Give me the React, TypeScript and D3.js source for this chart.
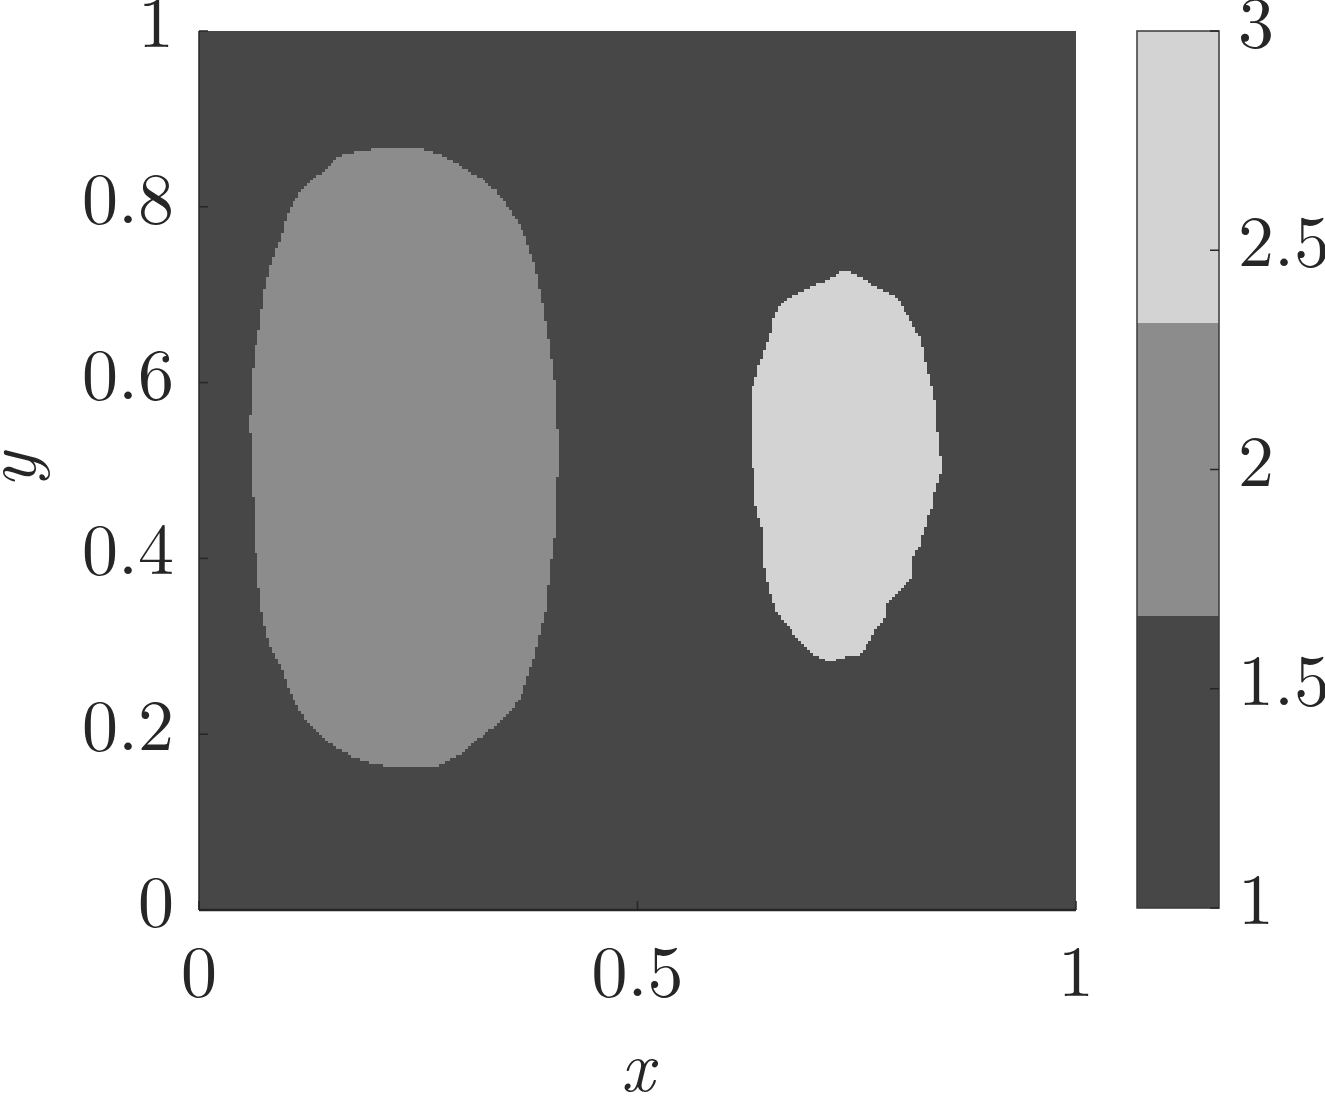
import React from "react";
import * as d3 from "d3";

// ---- data ----
// Region 1 (value 2): large ellipse-like region, boundary in data coords
const ellipseX = [.232,.246,.258,.275,.294,.312,.328,.340,.351,.363,.370,.375,.381,.389,.395,.400,.405,.408,.409,.408,.406,.400,.395,.387,.380,.374,.366,.357,.343,.328,.312,.300,.286,.273,.210,.198,.176,.157,.141,.129,.117,.107,.101,.096,.087,.079,.073,.067,.064,.062,.059,.058,.060,.064,.070,.075,.083,.091,.096,.101,.107,.115,.127,.138,.157,.172,.197];
const ellipseY = [.868,.868,.865,.859,.850,.838,.828,.817,.802,.785,.770,.757,.739,.705,.671,.637,.603,.557,.523,.478,.432,.387,.341,.307,.281,.262,.242,.228,.214,.203,.191,.179,.171,.165,.165,.167,.174,.185,.196,.208,.224,.241,.254,.273,.290,.307,.330,.375,.421,.466,.512,.557,.603,.637,.671,.705,.739,.759,.774,.791,.805,.816,.830,.838,.856,.861,.865];
const ellipseValue = 2;

// Region 2 (value 3): smaller blob
const blobX = [.740,.750,.769,.784,.796,.803,.811,.816,.822,.826,.830,.836,.839,.842,.845,.845,.842,.837,.836,.831,.828,.824,.822,.816,.814,.814,.807,.799,.791,.784,.783,.780,.773,.767,.759,.756,.742,.731,.722,.710,.700,.691,.682,.674,.665,.657,.653,.649,.645,.643,.645,.642,.637,.634,.632,.632,.629,.629,.632,.636,.637,.642,.645,.649,.653,.655,.660,.666,.674,.685,.697,.710,.722,.731];
const blobY = [.727,.722,.711,.703,.696,.683,.671,.660,.652,.634,.614,.595,.577,.538,.515,.498,.486,.474,.458,.447,.436,.424,.413,.407,.400,.379,.373,.364,.356,.349,.336,.330,.322,.311,.299,.292,.290,.287,.282,.287,.292,.299,.309,.321,.330,.344,.356,.372,.390,.404,.421,.436,.452,.463,.481,.504,.512,.588,.597,.609,.618,.628,.637,.648,.660,.673,.683,.692,.697,.703,.709,.714,.720,.725];
const blobValue = 3;

const backgroundValue = 1;
const gridSize = 300; // field resolution

const levelColors = ["#474747", "#8c8c8c", "#d3d3d3"];
const colorDomain = [1, 3];

const xTicks = [0, 0.5, 1];
const xTickLabels = ["0", "0.5", "1"];
const yTicks = [0, 0.2, 0.4, 0.6, 0.8, 1];
const yTickLabels = ["0", "0.2", "0.4", "0.6", "0.8", "1"];
const cTicks = [1, 1.5, 2, 2.5, 3];
const cTickLabels = ["1", "1.5", "2", "2.5", "3"];

const W = 1325, H = 1097;
const FONT = "'Latin Modern Roman','CMU Serif','Liberation Serif',serif";
const FS = 72;

function rasterRuns(px: number[], py: number[], n: number) {
  const runs: { i0: number; i1: number; j: number }[] = [];
  const m = px.length;
  for (let j = 0; j < n; j++) {
    const yc = (j + 0.5) / n;
    const xs: number[] = [];
    for (let k = 0; k < m; k++) {
      const x1 = px[k], y1 = py[k];
      const x2 = px[(k + 1) % m], y2 = py[(k + 1) % m];
      if ((y1 <= yc && y2 > yc) || (y2 <= yc && y1 > yc)) {
        xs.push(x1 + ((yc - y1) / (y2 - y1)) * (x2 - x1));
      }
    }
    xs.sort((a, b) => a - b);
    for (let k = 0; k + 1 < xs.length; k += 2) {
      const i0 = Math.ceil(xs[k] * n - 0.5);
      const i1 = Math.floor(xs[k + 1] * n - 0.5);
      if (i1 >= i0) runs.push({ i0, i1, j });
    }
  }
  return runs;
}

export default function App() {
  const x = d3.scaleLinear().domain([0, 1]).range([199, 1076]);
  const y = d3.scaleLinear().domain([0, 1]).range([910, 31]);
  const color = d3.scaleQuantize<string>().domain(colorDomain).range(levelColors);
  const c = d3.scaleLinear().domain(colorDomain).range([908, 31]);
  const cbX0 = 1137, cbX1 = 1219;
  const levelEdges = d3.range(levelColors.length + 1).map(
    (k) => colorDomain[0] + (k * (colorDomain[1] - colorDomain[0])) / levelColors.length
  );

  const regions = [
    { xs: ellipseX, ys: ellipseY, v: ellipseValue },
    { xs: blobX, ys: blobY, v: blobValue },
  ];

  const axisColor = "#262626";

  return (
    <svg
      width={W}
      height={H}
      style={{ position: "absolute", left: 0, top: 0, background: "#fff" }}
      fontFamily={FONT}
    >
      <rect x={0} y={0} width={W} height={H} fill="#fff" />
      {/* field */}
      <rect
        x={x(0)}
        y={y(1)}
        width={x(1) - x(0)}
        height={y(0) - y(1)}
        fill={color(backgroundValue + 0.01)}
      />
      {regions.map((r, ri) => (
        <g key={ri} fill={color(r.v - 0.01)} shapeRendering="crispEdges">
          {rasterRuns(r.xs, r.ys, gridSize).map((run, k) => (
            <rect
              key={k}
              x={x(run.i0 / gridSize)}
              y={y((run.j + 1) / gridSize)}
              width={x((run.i1 + 1) / gridSize) - x(run.i0 / gridSize)}
              height={y(run.j / gridSize) - y((run.j + 1) / gridSize) + 0.5}
            />
          ))}
        </g>
      ))}
      {/* axes */}
      <line x1={x(0)} x2={x(0)} y1={y(1)} y2={y(0)} stroke={axisColor} strokeWidth={1.5} />
      <line x1={x(0)} x2={x(1)} y1={y(0)} y2={y(0)} stroke={axisColor} strokeWidth={2.5} />
      {xTicks.map((t) => (
        <line key={"xt" + t} x1={x(t)} x2={x(t)} y1={y(0)} y2={y(0) - 9} stroke={axisColor} strokeWidth={1.5} />
      ))}
      {yTicks.map((t) => (
        <line key={"yt" + t} x1={x(0)} x2={x(0) + 9} y1={y(t)} y2={y(t)} stroke={axisColor} strokeWidth={1.5} />
      ))}
      {xTicks.map((t, i) => (
        <text key={"xl" + t} x={x(t)} y={996} textAnchor="middle" fontSize={FS} fill="#262626">
          {xTickLabels[i]}
        </text>
      ))}
      {yTicks.map((t, i) => (
        <text key={"yl" + t} x={174} y={y(t) + 16} textAnchor="end" fontSize={FS} fill="#262626">
          {yTickLabels[i]}
        </text>
      ))}
      <text x={x(0.5)} y={1091} textAnchor="middle" fontSize={FS} fontStyle="italic" fill="#262626">
        x
      </text>
      <text
        transform={`translate(35,470) rotate(-90)`}
        textAnchor="middle"
        fontSize={FS}
        fontStyle="italic"
        fill="#262626"
      >
        y
      </text>
      {/* colorbar */}
      {levelColors.map((col, k) => (
        <rect
          key={"cb" + k}
          x={cbX0}
          y={c(levelEdges[k + 1])}
          width={cbX1 - cbX0}
          height={c(levelEdges[k]) - c(levelEdges[k + 1])}
          fill={col}
          shapeRendering="crispEdges"
        />
      ))}
      <rect x={cbX0} y={c(3)} width={cbX1 - cbX0} height={c(1) - c(3)} fill="none" stroke="#3a3a3a" strokeWidth={1.5} />
      {cTicks.map((t) => (
        <line key={"ct" + t} x1={cbX1 - 9} x2={cbX1} y1={c(t)} y2={c(t)} stroke={axisColor} strokeWidth={1.5} />
      ))}
      {cTicks.map((t, i) => (
        <text key={"cl" + t} x={1238} y={c(t) + 16} textAnchor="start" fontSize={FS} fill="#262626">
          {cTickLabels[i]}
        </text>
      ))}
    </svg>
  );
}
